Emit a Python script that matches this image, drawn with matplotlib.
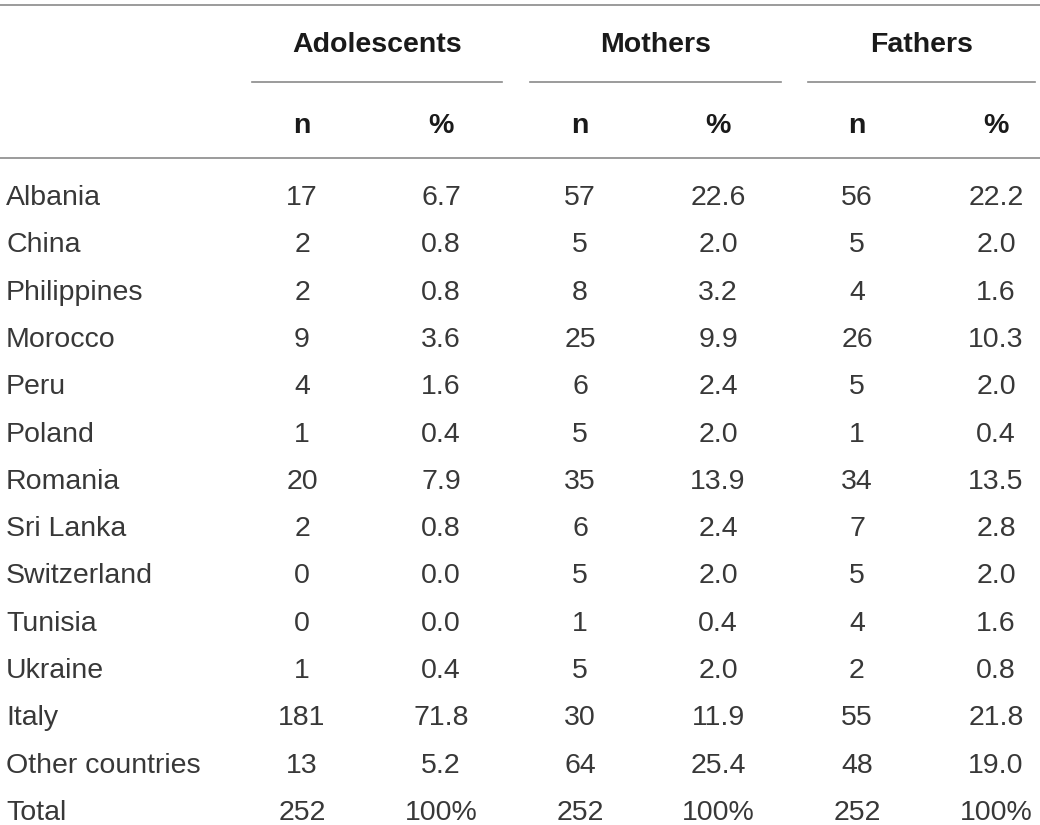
import matplotlib.pyplot as plt

# Table contents
groups = ["Adolescents", "Mothers", "Fathers"]
countries = ["Albania", "China", "Philippines", "Morocco", "Peru", "Poland",
             "Romania", "Sri Lanka", "Switzerland", "Tunisia", "Ukraine",
             "Italy", "Other countries", "Total"]
adolescents_n = ["17", "2", "2", "9", "4", "1", "20", "2", "0", "0", "1", "181", "13", "252"]
adolescents_pct = ["6.7", "0.8", "0.8", "3.6", "1.6", "0.4", "7.9", "0.8", "0.0", "0.0", "0.4", "71.8", "5.2", "100%"]
mothers_n = ["57", "5", "8", "25", "6", "5", "35", "6", "5", "1", "5", "30", "64", "252"]
mothers_pct = ["22.6", "2.0", "3.2", "9.9", "2.4", "2.0", "13.9", "2.4", "2.0", "0.4", "2.0", "11.9", "25.4", "100%"]
fathers_n = ["56", "5", "4", "26", "5", "1", "34", "7", "5", "4", "2", "55", "48", "252"]
fathers_pct = ["22.2", "2.0", "1.6", "10.3", "2.0", "0.4", "13.5", "2.8", "2.0", "1.6", "0.8", "21.8", "19.0", "100%"]

plt.rcParams['font.family'] = ['Liberation Sans', 'DejaVu Sans']

fig = plt.figure(figsize=(10.4, 8.25), dpi=100)
ax = fig.add_axes([0, 0, 1, 1])
ax.set_xlim(0, 1040)
ax.set_ylim(825, 0)
ax.axis('off')

lineColor = '#8a8a8a'
textColor = '#383838'
headColor = '#1a1a1a'
fs = 20.5

# Horizontal rules
ax.plot([0, 1040], [5, 5], color=lineColor, lw=1.2)
ax.plot([0, 1040], [158, 158], color=lineColor, lw=1.2)
spans = [(252, 502), (530, 781), (808, 1035)]
for a, b in spans:
    ax.plot([a, b], [82, 82], color=lineColor, lw=1.2)

# Column centres
nCols = [302, 580, 857]
pctCols = [441, 718, 996]

for g, (a, b) in zip(groups, spans):
    ax.text((a + b) / 2, 52, g, ha='center', va='baseline', fontsize=fs,
            fontweight='bold', color=headColor)
for xn, xp in zip(nCols, pctCols):
    ax.text(xn, 133, "n", ha='center', va='baseline', fontsize=fs, fontweight='bold', color=headColor)
    ax.text(xp, 133, "%", ha='center', va='baseline', fontsize=fs, fontweight='bold', color=headColor)

columns = [adolescents_n, adolescents_pct, mothers_n, mothers_pct, fathers_n, fathers_pct]
colX = [nCols[0], pctCols[0], nCols[1], pctCols[1], nCols[2], pctCols[2]]

rowStep = 47.3
for i, c in enumerate(countries):
    y = 205 + i * rowStep
    ax.text(6, y, c, ha='left', va='baseline', fontsize=fs, color=textColor)
    for x, col in zip(colX, columns):
        ax.text(x, y, col[i], ha='center', va='baseline', fontsize=fs, color=textColor)

fig.savefig("out.png", dpi=100)
